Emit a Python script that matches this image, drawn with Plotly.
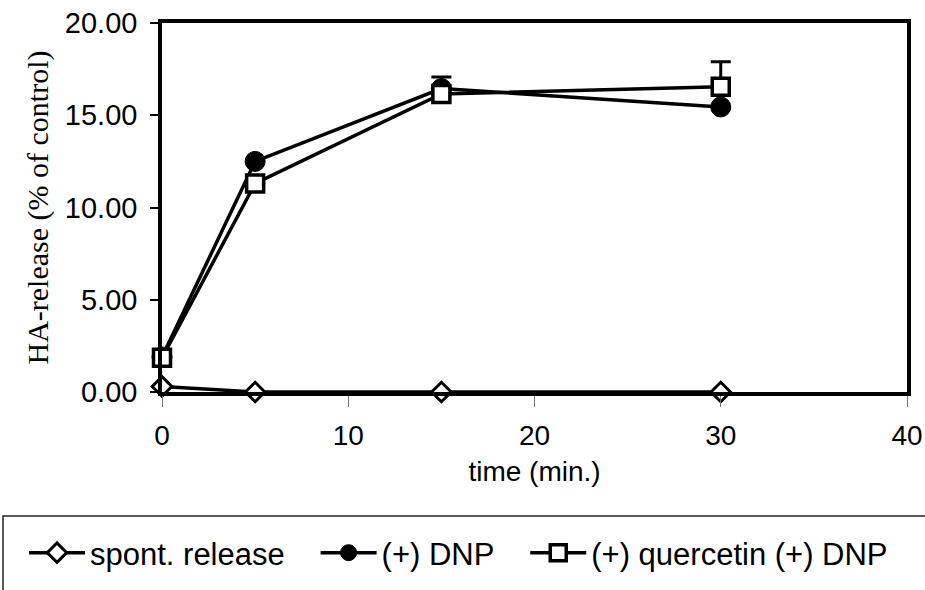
import plotly.graph_objects as go

# ---- data ----
time_min = [0, 5, 15, 30]
spont_release = [0.3, 0.0, 0.0, 0.0]
dnp = [1.9, 12.5, 16.45, 15.45]
dnp_err = [0, 0, 0.62, 0]
querc_dnp = [1.85, 11.3, 16.15, 16.55]
querc_dnp_err = [0, 0, 0, 1.35]
series_names = ["spont. release", "(+) DNP", "(+) quercetin (+) DNP"]
legend_pad = ["\u00a0\u00a0\u00a0", "\u00a0\u00a0\u00a0", ""]
x_ticks = [0, 10, 20, 30, 40]
y_ticks = [0, 5, 10, 15, 20]

W, H = 925, 590
L, R, T, B = 162, 18, 23, 198
pw, ph = W - L - R, H - T - B


def px_x(p):
    return (p - L) / pw


def px_y(p):
    return (H - B - p) / ph


fig = go.Figure()
fig.add_trace(go.Scatter(
    x=time_min, y=spont_release, name=series_names[0] + legend_pad[0], mode="lines+markers",
    line=dict(color="black", width=3.5),
    marker=dict(symbol="diamond", size=15, color="white", line=dict(color="black", width=3)),
    cliponaxis=False))
fig.add_trace(go.Scatter(
    x=time_min, y=dnp, name=series_names[1] + legend_pad[1], mode="lines+markers",
    line=dict(color="black", width=3.5),
    marker=dict(symbol="circle", size=20, color="black", line=dict(color="black", width=1)),
    error_y=dict(type="data", array=dnp_err, symmetric=False, arrayminus=[0] * 4,
                 color="black", thickness=3, width=10),
    cliponaxis=False))
fig.add_trace(go.Scatter(
    x=time_min, y=querc_dnp, name=series_names[2] + legend_pad[2], mode="lines+markers",
    line=dict(color="black", width=3.5),
    marker=dict(symbol="square", size=17, color="white", line=dict(color="black", width=3.5)),
    error_y=dict(type="data", array=querc_dnp_err, symmetric=False, arrayminus=[0] * 4,
                 color="black", thickness=3, width=10),
    cliponaxis=False))

fig.update_layout(
    width=W, height=H,
    margin=dict(l=L, r=R, t=T, b=B, autoexpand=False),
    paper_bgcolor="white", plot_bgcolor="white",
    font=dict(family="Liberation Sans, Arial, sans-serif", color="black", size=28),
    showlegend=True,
    legend=dict(orientation="h", x=px_x(24), xanchor="left", y=px_y(553), yanchor="middle",
                font=dict(size=31, family="Liberation Sans, Arial, sans-serif", color="black"),
                bgcolor="rgba(0,0,0,0)", itemwidth=56, traceorder="normal"),
    shapes=[dict(type="rect", xref="paper", yref="paper",
                 x0=px_x(3), x1=px_x(935), y0=px_y(516), y1=px_y(600),
                 line=dict(color="#222", width=1.5), fillcolor="rgba(0,0,0,0)", layer="below")],
)

fig.update_xaxes(
    range=[0, 40], tickvals=x_ticks, ticktext=[str(v) for v in x_ticks],
    showline=True, mirror=True, linewidth=3.5, linecolor="black",
    ticks="outside", ticklen=11, tickwidth=1, tickcolor="#777",
    showgrid=False, zeroline=False, ticklabelstandoff=5,
    tickfont=dict(size=28, color="black"),
    title=dict(text="time (min.)", font=dict(size=28, color="black"), standoff=12),
)
fig.update_yaxes(
    range=[0, 20], tickvals=y_ticks, tickformat=".2f",
    showline=True, mirror=True, linewidth=3.5, linecolor="black",
    ticks="outside", ticklen=8, tickwidth=2, tickcolor="black",
    showgrid=False, zeroline=False, ticklabelstandoff=7,
    tickfont=dict(size=29, color="black"),
    title=dict(text="HA-release (% of control)",
               font=dict(size=30, color="black", family="Liberation Serif, Times New Roman, serif"),
               standoff=8),
)

fig.write_html("out.html")
